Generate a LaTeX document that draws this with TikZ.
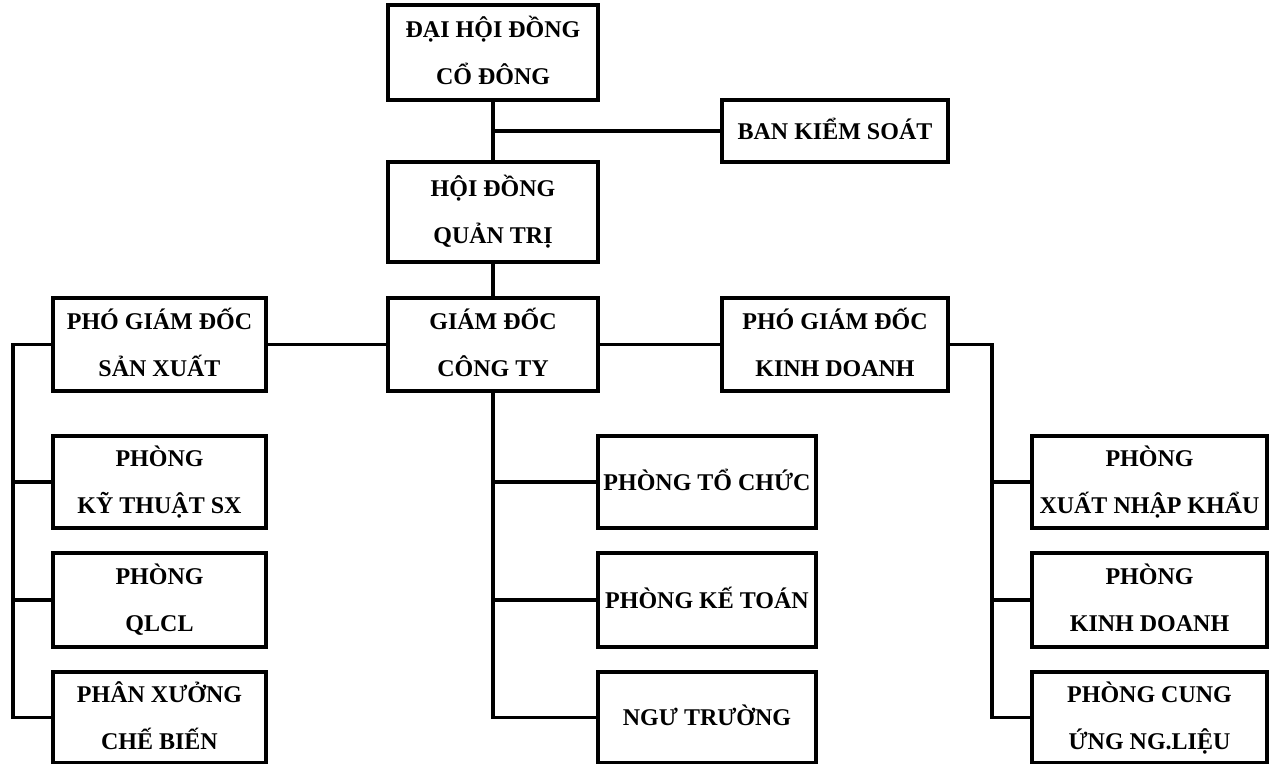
\documentclass[tikz,border=0pt]{standalone}
\usepackage{fontspec}
\setmainfont{Liberation Serif}
\newcommand\ftop{\rule{0pt}{24pt}}
\newcommand\fbot{\rule[-8pt]{0pt}{0pt}}
\tikzset{
  orgbox/.style={draw, line width=3.3pt, inner sep=0pt, align=center,
    font=\fontsize{24}{47}\selectfont\bfseries},
  conn/.style={line width=3.3pt}
}
\begin{document}
\begin{tikzpicture}[x=1pt,y=-1pt]
\useasboundingbox (0,0) rectangle (1274,763);
% top chain
\node[orgbox, minimum width=210pt, minimum height=95pt] (dh) at (493,52.5) {\ftop ĐẠI HỘI ĐỒNG\\CỔ ĐÔNG\fbot};
\node[orgbox, minimum width=226pt, minimum height=62pt] (bks) at (835,131) {\ftop BAN KIỂM SOÁT\fbot};
\node[orgbox, minimum width=210pt, minimum height=100pt] (hd) at (493,212) {\ftop HỘI ĐỒNG\\QUẢN TRỊ\fbot};
\node[orgbox, minimum width=210pt, minimum height=93pt] (gd) at (493,344.5) {\ftop GIÁM ĐỐC\\CÔNG TY\fbot};
\node[orgbox, minimum width=213pt, minimum height=93pt] (sx) at (159.5,344.5) {\ftop PHÓ GIÁM ĐỐC\\SẢN XUẤT\fbot};
\node[orgbox, minimum width=226pt, minimum height=93pt] (kd) at (835,344.5) {\ftop PHÓ GIÁM ĐỐC\\KINH DOANH\fbot};
% left column
\node[orgbox, minimum width=213pt, minimum height=92pt] (kt) at (159.5,482) {\ftop PHÒNG\\KỸ THUẬT SX\fbot};
\node[orgbox, minimum width=213pt, minimum height=94pt] (ql) at (159.5,600) {\ftop PHÒNG\\QLCL\fbot};
\node[orgbox, minimum width=213pt, minimum height=91pt] (px) at (159.5,717.5) {\ftop PHÂN XƯỞNG\\CHẾ BIẾN\fbot};
% middle column
\node[orgbox, minimum width=218pt, minimum height=92pt] (tc) at (707,482) {\ftop PHÒNG TỔ CHỨC\fbot};
\node[orgbox, minimum width=218pt, minimum height=94pt] (kto) at (707,600) {\ftop PHÒNG KẾ TOÁN\fbot};
\node[orgbox, minimum width=218pt, minimum height=91pt] (nt) at (707,717.5) {\ftop NGƯ TRƯỜNG\fbot};
% right column
\node[orgbox, minimum width=235pt, minimum height=92pt] (xnk) at (1149.5,482) {\ftop PHÒNG\\XUẤT NHẬP KHẨU\fbot};
\node[orgbox, minimum width=235pt, minimum height=94pt] (pkd) at (1149.5,600) {\ftop PHÒNG\\KINH DOANH\fbot};
\node[orgbox, minimum width=235pt, minimum height=91pt] (cu) at (1149.5,717.5) {\ftop PHÒNG CUNG\\ỨNG NG.LIỆU\fbot};
% connectors
\coordinate (lb) at (13,344.5);
\coordinate (rb) at (992,344.5);
\draw[conn] (dh.south) -- (hd.north);
\draw[conn] (bks.west) -- (bks.west -| dh.south);
\draw[conn] (hd.south) -- (gd.north);
\draw[conn] (gd.west) -- (sx.east);
\draw[conn] (gd.east) -- (kd.west);
\draw[conn] (sx.west) -- (lb) |- (px.west);
\draw[conn] (kt.west) -- (kt.west -| lb);
\draw[conn] (ql.west) -- (ql.west -| lb);
\draw[conn] (gd.south) |- (nt.west);
\draw[conn] (tc.west) -- (tc.west -| gd.south);
\draw[conn] (kto.west) -- (kto.west -| gd.south);
\draw[conn] (kd.east) -- (rb) |- (cu.west);
\draw[conn] (xnk.west) -- (xnk.west -| rb);
\draw[conn] (pkd.west) -- (pkd.west -| rb);
\end{tikzpicture}
\end{document}
